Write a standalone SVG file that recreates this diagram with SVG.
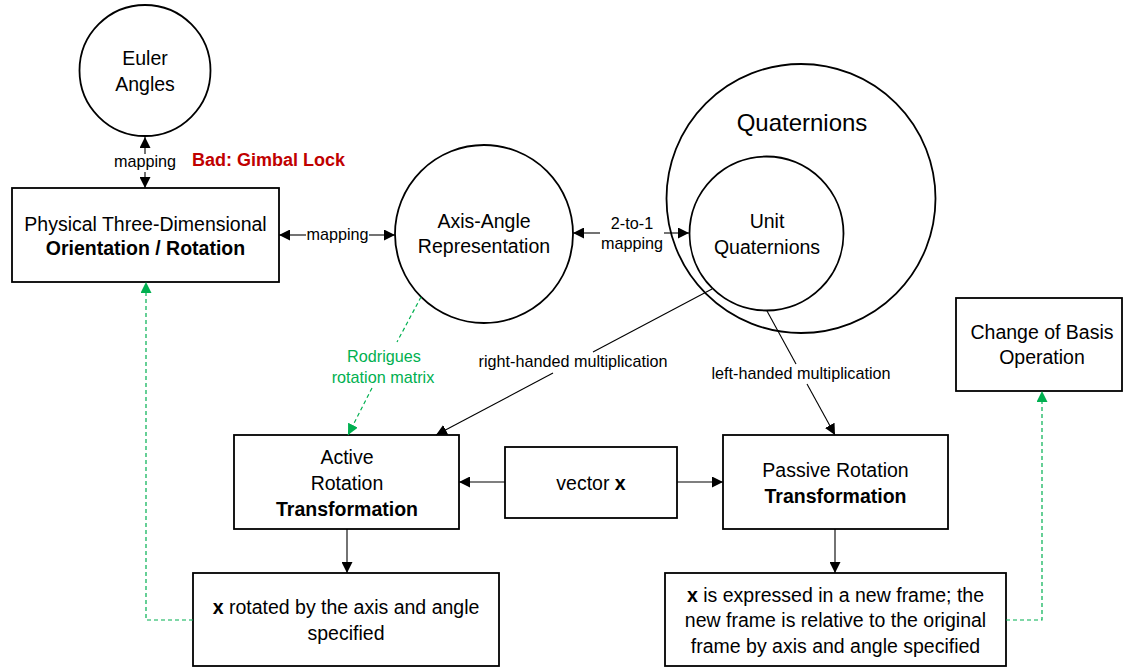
<svg xmlns="http://www.w3.org/2000/svg" width="1124" height="668" viewBox="0 0 1124 668">
<style>
  text { font-family: "Liberation Sans", Arial, sans-serif; fill: #000; }
  .t { font-size: 19.5px; text-anchor: middle; }
  .b { font-weight: bold; }
  .lbl { font-size: 16.2px; text-anchor: middle; }
  .g { fill: #00B050; }
  .shape { fill: #fff; stroke: #000; stroke-width: 1.8; }
  .c { fill: none; stroke: #000; stroke-width: 1.1; }
  .gd { fill: none; stroke: #00B050; stroke-width: 1.2; stroke-dasharray: 4 3; }
</style>
<defs>
  <marker id="ah" viewBox="0 0 10 10" refX="10" refY="5" markerWidth="11" markerHeight="11" markerUnits="userSpaceOnUse" orient="auto-start-reverse">
    <path d="M0,0 L10,5 L0,10 z" fill="#000"/>
  </marker>
  <marker id="ahg" viewBox="0 0 10 10" refX="10" refY="5" markerWidth="11" markerHeight="11" markerUnits="userSpaceOnUse" orient="auto-start-reverse">
    <path d="M0,0 L10,5 L0,10 z" fill="#00B050"/>
  </marker>
</defs>
<rect width="1124" height="668" fill="#fff"/>

<g id="euler">
  <circle class="shape" cx="145" cy="70.5" r="65.5"/>
  <text class="t" x="145" y="65">Euler</text>
  <text class="t" x="145" y="91">Angles</text>
</g>

<g id="physical">
  <rect class="shape" x="12" y="188" width="267" height="94"/>
  <text class="t" x="145.5" y="231">Physical Three-Dimensional</text>
  <text class="t b" x="145.5" y="255">Orientation / Rotation</text>
</g>

<g id="gimbal">
  <text x="192" y="166" style="font-size:18px;font-weight:bold;fill:#C00000">Bad: Gimbal Lock</text>
</g>

<g id="axisangle">
  <circle class="shape" cx="484" cy="234" r="89"/>
  <text class="t" x="484" y="228">Axis-Angle</text>
  <text class="t" x="484" y="253">Representation</text>
</g>

<g id="quaternions">
  <circle class="shape" cx="801" cy="198.5" r="134.5"/>
  <text class="t" x="802" y="131" style="font-size:24px">Quaternions</text>
</g>

<g id="unitquaternions">
  <circle class="shape" cx="766.5" cy="233.5" r="77"/>
  <text class="t" x="767" y="228">Unit</text>
  <text class="t" x="767" y="254">Quaternions</text>
</g>

<g id="changebasis">
  <rect class="shape" x="956" y="298" width="166" height="93"/>
  <text class="t" x="1042" y="339">Change of Basis</text>
  <text class="t" x="1042" y="364">Operation</text>
</g>

<g id="active">
  <rect class="shape" x="234" y="435" width="225" height="94"/>
  <text class="t" x="347" y="464">Active</text>
  <text class="t" x="347" y="490">Rotation</text>
  <text class="t b" x="347" y="516">Transformation</text>
</g>

<g id="vectorx">
  <rect class="shape" x="505" y="447" width="172" height="71"/>
  <text class="t" x="591" y="490">vector <tspan class="b">x</tspan></text>
</g>

<g id="passive">
  <rect class="shape" x="723" y="435" width="225" height="94"/>
  <text class="t" x="835.5" y="477">Passive Rotation</text>
  <text class="t b" x="835.5" y="503">Transformation</text>
</g>

<g id="rotated">
  <rect class="shape" x="193" y="573" width="306" height="93"/>
  <text class="t" x="346" y="614"><tspan class="b">x</tspan> rotated by the axis and angle</text>
  <text class="t" x="346" y="640">specified</text>
</g>

<g id="expressed">
  <rect class="shape" x="665" y="573" width="341" height="93"/>
  <text class="t" x="835.5" y="602"><tspan class="b">x</tspan> is expressed in a new frame; the</text>
  <text class="t" x="835.5" y="627">new frame is relative to the original</text>
  <text class="t" x="835.5" y="653">frame by axis and angle specified</text>
</g>

<g id="connectors">
  <line class="c" x1="145" y1="137" x2="145" y2="154" marker-start="url(#ah)"/>
  <line class="c" x1="145" y1="172" x2="145" y2="188" marker-end="url(#ah)"/>
  <text class="lbl" x="145" y="167">mapping</text>
  <line class="c" x1="279" y1="235" x2="306" y2="235" marker-start="url(#ah)"/>
  <line class="c" x1="369" y1="235" x2="395" y2="235" marker-end="url(#ah)"/>
  <text class="lbl" x="337.5" y="240">mapping</text>
  <line class="c" x1="573" y1="233" x2="600" y2="233" marker-start="url(#ah)"/>
  <line class="c" x1="664" y1="233" x2="689" y2="233" marker-end="url(#ah)"/>
  <text class="lbl" x="632" y="229">2-to-1</text>
  <text class="lbl" x="632" y="249">mapping</text>
  <line class="c" x1="712" y1="289" x2="593" y2="352"/>
  <line class="c" x1="553" y1="373" x2="436" y2="435" marker-end="url(#ah)"/>
  <text class="lbl" x="573" y="367">right-handed multiplication</text>
  <line class="c" x1="767" y1="311" x2="796" y2="364"/>
  <line class="c" x1="807" y1="384" x2="835" y2="435" marker-end="url(#ah)"/>
  <text class="lbl" x="801" y="379">left-handed multiplication</text>
  <line class="gd" x1="421" y1="297" x2="397" y2="342"/>
  <line class="gd" x1="372" y1="388" x2="348" y2="435" marker-end="url(#ahg)"/>
  <text class="lbl g" x="384" y="362">Rodrigues</text>
  <text class="lbl g" x="383" y="383">rotation matrix</text>
  <line class="c" x1="505" y1="482" x2="459" y2="482" marker-end="url(#ah)"/>
  <line class="c" x1="677" y1="482" x2="723" y2="482" marker-end="url(#ah)"/>
  <line class="c" x1="347" y1="529" x2="347" y2="573" marker-end="url(#ah)"/>
  <line class="c" x1="835" y1="529" x2="835" y2="573" marker-end="url(#ah)"/>
  <polyline class="gd" points="193,620 146,620 146,282" marker-end="url(#ahg)"/>
  <polyline class="gd" points="1006,620 1042,620 1042,391" marker-end="url(#ahg)"/>
</g>
</svg>
